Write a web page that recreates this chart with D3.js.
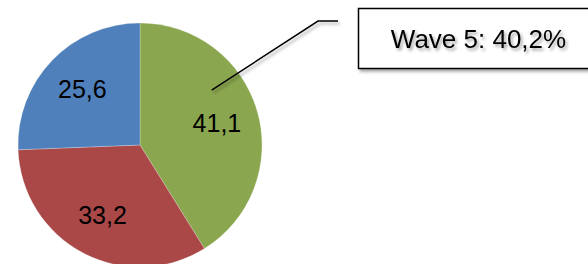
<!DOCTYPE html>
<html>
<head>
<meta charset="utf-8">
<script src="https://d3js.org/d3.v7.min.js"></script>
<style>
  html, body { margin: 0; padding: 0; background: #fff; }
  svg { display: block; font-family: "Liberation Sans", Arial, sans-serif; }
</style>
</head>
<body>
<div id="chart"></div>
<script>
  // slice data, clockwise from 12 o'clock
  const labels = ["41,1", "33,2", "25,6"];
  const values = [41.1, 33.2, 25.6];
  const colors = ["#8aa64f", "#a94847", "#4f80bb"];
  const calloutText = "Wave 5: 40,2%";

  const w = 588, h = 264;
  const cx = 140, cy = 145, radius = 122;

  const svg = d3.select("#chart").append("svg")
    .attr("width", w).attr("height", h);

  const defs = svg.append("defs");
  const f = defs.append("filter").attr("id", "shadow")
    .attr("x", "-20%").attr("y", "-20%").attr("width", "140%").attr("height", "160%");
  f.append("feDropShadow").attr("dx", 2).attr("dy", 2.5)
    .attr("stdDeviation", 1.8).attr("flood-color", "#000").attr("flood-opacity", 0.35);

  const pie = d3.pie().sort(null).value(d => d);
  const arcs = pie(values);
  const arc = d3.arc().innerRadius(0).outerRadius(radius);
  const labelArc = d3.arc().innerRadius(80).outerRadius(80);

  const g = svg.append("g").attr("transform", `translate(${cx},${cy})`);

  g.selectAll("path.slice")
    .data(arcs)
    .join("path")
    .attr("class", "slice")
    .attr("d", arc)
    .attr("fill", (d, i) => colors[i])
    .attr("stroke", "#fff")
    .attr("stroke-opacity", 0.4)
    .attr("stroke-width", 0.6);

  g.selectAll("text.lbl")
    .data(arcs)
    .join("text")
    .attr("class", "lbl")
    .attr("transform", d => `translate(${labelArc.centroid(d)})`)
    .attr("text-anchor", "middle")
    .attr("dy", "0.35em")
    .attr("font-size", 25)
    .attr("fill", "#000")
    .text((d, i) => labels[i]);

  // callout for the first slice
  const a0 = arcs[0];
  const ang = a0.startAngle + 0.355 * (a0.endAngle - a0.startAngle);
  const r0 = 0.74 * radius;
  const p0 = [cx + r0 * Math.sin(ang), cy - r0 * Math.cos(ang)];
  const p1 = [318, 21];
  const p2 = [338, 21];

  svg.append("path")
    .attr("d", d3.line()([p0, p1, p2]))
    .attr("fill", "none")
    .attr("stroke", "#000")
    .attr("stroke-width", 1.5)
    .attr("filter", "url(#shadow)");

  const box = svg.append("g");
  box.append("rect")
    .attr("x", 358.5).attr("y", 8.5)
    .attr("width", 260).attr("height", 60)
    .attr("fill", "#fff")
    .attr("stroke", "#000")
    .attr("stroke-width", 1.5)
    .attr("filter", "url(#shadow)");
  box.append("text")
    .attr("x", 478.5).attr("y", 48)
    .attr("text-anchor", "middle")
    .attr("font-size", 26)
    .attr("fill", "#000")
    .attr("filter", "url(#shadow)")
    .text(calloutText);
</script>
</body>
</html>
